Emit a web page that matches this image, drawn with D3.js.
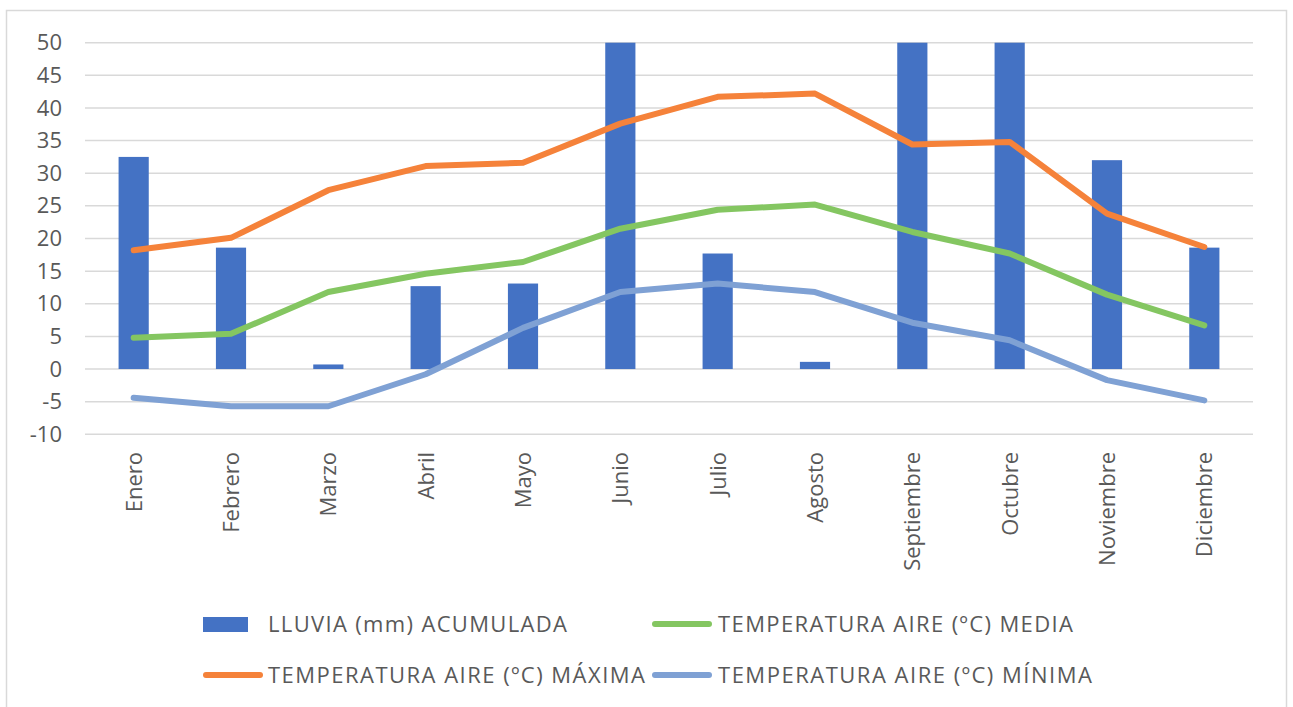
<!DOCTYPE html>
<html>
<head>
<meta charset="utf-8">
<script src="https://cdn.jsdelivr.net/npm/d3@7"></script>
<style>
  body { margin: 0; background: #fff; }
  text { font-family: "Open Sans", "Liberation Sans", sans-serif; fill: #595959; }
</style>
</head>
<body>
<div id="chart"></div>
<script>
// months on the x axis
var months = ["Enero", "Febrero", "Marzo", "Abril", "Mayo", "Junio",
              "Julio", "Agosto", "Septiembre", "Octubre", "Noviembre", "Diciembre"];

// rainfall (bars, clipped at 50 by the axis)
var lluvia = [32.5, 18.6, 0.7, 12.7, 13.1, 50, 17.7, 1.1, 50, 50, 32.0, 18.6];

// temperature lines
var tMax = [18.2, 20.1, 27.4, 31.1, 31.6, 37.6, 41.7, 42.2, 34.4, 34.8, 23.8, 18.7];
var tMedia = [4.8, 5.4, 11.8, 14.6, 16.4, 21.5, 24.4, 25.2, 21.0, 17.7, 11.4, 6.7];
var tMin = [-4.4, -5.7, -5.7, -0.8, 6.3, 11.8, 13.1, 11.8, 7.1, 4.4, -1.7, -4.8];

var yTicks = [-10, -5, 0, 5, 10, 15, 20, 25, 30, 35, 40, 45, 50];

var svgWidth = 1293;
var svgHeight = 707;

var svg = d3.select("#chart")
            .append("svg")
            .attr("width", svgWidth)
            .attr("height", svgHeight);

// outer chart frame
svg.append("rect")
   .attr("x", 6.5).attr("y", 10.5)
   .attr("width", 1280).attr("height", 720)
   .attr("fill", "none")
   .attr("stroke", "#d9d9d9")
   .attr("stroke-width", 1.5);

var x = d3.scaleBand()
          .domain(months)
          .range([85, 1253])
          .paddingInner(0.69)
          .paddingOuter(0.345);

var xc = d => x(d) + x.bandwidth() / 2;

var y = d3.scaleLinear()
          .domain([-10, 50])
          .range([434.3, 42.7]);

// gridlines
svg.append("g")
   .selectAll("line")
   .data(yTicks)
   .enter()
   .append("line")
   .attr("x1", 85).attr("x2", 1253)
   .attr("y1", d => y(d)).attr("y2", d => y(d))
   .attr("stroke", "#d9d9d9")
   .attr("stroke-width", 1.5);

// y labels (plain hyphen for negatives, like the original)
var yAxis = svg.append("g")
   .attr("transform", "translate(62,0)")
   .call(d3.axisLeft(y).tickValues(yTicks).tickSize(0).tickPadding(0)
           .tickFormat(d => String(d)));
yAxis.select(".domain").remove();
yAxis.selectAll("text")
   .attr("font-size", 22)
   .attr("font-family", null)
   .attr("fill", "#595959");

// x labels, rotated
svg.append("g")
   .selectAll("text")
   .data(months)
   .enter()
   .append("text")
   .attr("transform", d => `translate(${xc(d) + 8},452) rotate(-90)`)
   .attr("text-anchor", "end")
   .attr("font-size", 22)
   .text(d => d);

// bars
svg.append("g")
   .selectAll("rect")
   .data(lluvia)
   .enter()
   .append("rect")
   .attr("x", (d, i) => x(months[i]))
   .attr("y", d => y(d))
   .attr("width", x.bandwidth())
   .attr("height", d => y(0) - y(d))
   .attr("fill", "#4472c4");

// lines
var line = d3.line()
   .x((d, i) => xc(months[i]))
   .y(d => y(d));

var series = [
  { name: "TEMPERATURA AIRE (ºC) MEDIA", values: tMedia, color: "#84c661" },
  { name: "TEMPERATURA AIRE (ºC) MÁXIMA", values: tMax, color: "#f5823a" },
  { name: "TEMPERATURA AIRE (ºC) MÍNIMA", values: tMin, color: "#7fa1d4" }
];

svg.append("g")
   .selectAll("path")
   .data([series[2], series[0], series[1]])
   .enter()
   .append("path")
   .attr("d", d => line(d.values))
   .attr("fill", "none")
   .attr("stroke", d => d.color)
   .attr("stroke-width", 6)
   .attr("stroke-linejoin", "round")
   .attr("stroke-linecap", "round");

// legend
var legend = svg.append("g");

legend.append("rect")
   .attr("x", 203).attr("y", 617)
   .attr("width", 45).attr("height", 15)
   .attr("fill", "#4472c4");
legend.append("text")
   .attr("x", 268).attr("y", 632)
   .attr("font-size", 22)
   .attr("textLength", 299)
   .text("LLUVIA (mm) ACUMULADA");

var legendItems = [
  { s: series[0], lx: 655, tx: 718, ly: 624, w: 355 },
  { s: series[1], lx: 206, tx: 268, ly: 675, w: 377 },
  { s: series[2], lx: 655, tx: 718, ly: 675, w: 374 }
];

legendItems.forEach(function(it) {
  legend.append("line")
     .attr("x1", it.lx).attr("x2", it.lx + 54)
     .attr("y1", it.ly).attr("y2", it.ly)
     .attr("stroke", it.s.color)
     .attr("stroke-width", 6)
     .attr("stroke-linecap", "round");
  legend.append("text")
     .attr("x", it.tx).attr("y", it.ly + 8)
     .attr("font-size", 22)
     .attr("textLength", it.w)
     .text(it.s.name);
});
</script>
</body>
</html>
